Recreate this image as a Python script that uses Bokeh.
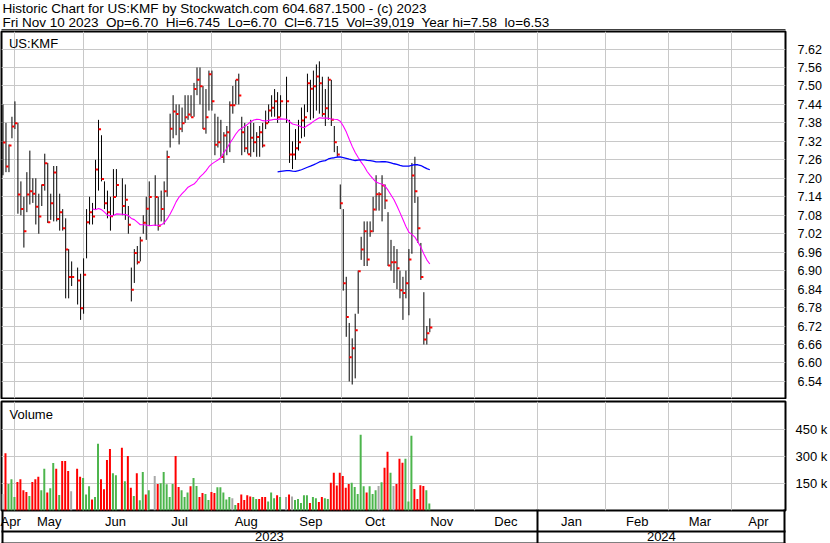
import numpy as np
import pandas as pd
from bokeh.plotting import figure
from bokeh.models import Range1d, FixedTicker, LinearAxis, Label, NumeralTickFormatter, BoxAnnotation
from bokeh.layouts import column
from bokeh.embed import file_html
from bokeh.resources import INLINE

FONT = "Liberation Sans"

# ---------------- data ----------------
start_day = "2023-04-25"
holidays = ["2023-05-29", "2023-06-19", "2023-07-04", "2023-09-04"]
dates = pd.bdate_range(start_day, "2023-11-10", freq="C", holidays=holidays)

high = [7.44, 7.38, 7.31, 7.40, 7.45, 7.38, 7.19, 7.14, 7.22, 7.29,
        7.20, 7.20, 7.15, 7.18, 7.28, 7.25, 7.15, 7.24, 7.24, 7.15,
        7.10, 7.07, 6.97, 6.93,
        6.91, 6.89, 6.94, 7.10, 7.14, 7.12, 7.26, 7.39, 7.34, 7.19, 7.16, 7.14, 7.23, 7.23,
        7.20, 7.18, 7.11, 6.91, 6.97, 6.98, 7.01, 7.08, 7.14, 7.19,
        7.21, 7.14, 7.16, 7.19, 7.29, 7.41, 7.47, 7.44, 7.44, 7.43, 7.47, 7.47, 7.47, 7.51,
        7.56, 7.56, 7.50, 7.49, 7.55, 7.55, 7.41, 7.40, 7.39, 7.35, 7.37, 7.45, 7.50, 7.52,
        7.54, 7.40, 7.38, 7.37, 7.39, 7.38, 7.35, 7.37, 7.38, 7.42, 7.44, 7.47, 7.49, 7.48, 7.47,
        7.53, 7.39, 7.32, 7.36, 7.39, 7.43, 7.44, 7.54, 7.52, 7.55, 7.57, 7.58, 7.53, 7.49,
        7.53, 7.52, 7.37, 7.305, 7.18, 7.10, 6.88, 6.73, 6.68, 6.76, 6.90, 7.01, 7.06, 7.06,
        7.06, 7.14, 7.21, 7.155, 7.21, 7.18, 7.09, 7.00, 6.98, 6.97, 6.90, 6.88, 6.90, 6.97,
        7.25, 7.27, 7.14, 6.99, 6.83, 6.72, 6.745]

low = [7.21, 7.22, 7.22, 7.33, 7.36, 7.085, 7.08, 6.975, 7.09, 7.115,
       7.12, 7.05, 7.02, 7.11, 7.16, 7.055, 7.065, 7.06, 7.06, 7.03,
       7.03, 6.81, 6.81, 6.85,
       6.79, 6.74, 6.76, 6.94, 7.05, 7.05, 7.10, 7.16, 7.19, 7.10, 7.07, 7.03, 7.08, 7.14,
       7.08, 7.065, 7.02, 6.80, 6.86, 6.92, 6.93, 7.02, 7.00, 7.045,
       7.045, 7.03, 7.06, 7.05, 7.14, 7.30, 7.33, 7.34, 7.31, 7.35, 7.38, 7.39, 7.40, 7.40,
       7.47, 7.44, 7.36, 7.345, 7.42, 7.42, 7.275, 7.30, 7.27, 7.25, 7.275, 7.285, 7.41, 7.44,
       7.44, 7.275, 7.285, 7.28, 7.27, 7.285, 7.27, 7.27, 7.30, 7.36, 7.38, 7.40, 7.40, 7.38, 7.40,
       7.38, 7.25, 7.23, 7.26, 7.29, 7.33, 7.335, 7.415, 7.39, 7.395, 7.42, 7.41, 7.40, 7.37,
       7.39, 7.37, 7.285, 7.27, 7.10, 6.835, 6.685, 6.54, 6.53, 6.55, 6.76, 6.935, 6.915, 6.915,
       7.01, 7.025, 7.095, 7.095, 7.06, 7.10, 6.915, 6.90, 6.86, 6.84, 6.81, 6.74, 6.81, 6.755,
       6.955, 7.12, 6.99, 6.87, 6.66, 6.66, 6.70]

close = [7.316, 7.238, 7.307, 7.368, 7.379, 7.147, 7.100, 7.028, 7.147, 7.158,
         7.150, 7.108, 7.076, 7.178, 7.249, 7.057, 7.119, 7.219, 7.068, 7.090,
         7.038, 6.969, 6.879, 6.879,
         6.868, 6.778, 6.887, 7.057, 7.090, 7.076, 7.229, 7.359, 7.198, 7.119, 7.090, 7.077, 7.139, 7.178,
         7.110, 7.130, 7.049, 6.838, 6.957, 6.927, 6.998, 7.056, 7.101, 7.139,
         7.139, 7.046, 7.100, 7.158, 7.269, 7.361, 7.417, 7.409, 7.361, 7.379, 7.398, 7.407, 7.398, 7.490,
         7.520, 7.499, 7.361, 7.398, 7.538, 7.450, 7.309, 7.317, 7.269, 7.339, 7.350, 7.437, 7.437, 7.520,
         7.469, 7.350, 7.298, 7.278, 7.332, 7.317, 7.334, 7.350, 7.307, 7.379, 7.420, 7.429, 7.450, 7.398, 7.450,
         7.450, 7.277, 7.277, 7.298, 7.317, 7.388, 7.398, 7.509, 7.491, 7.499, 7.531, 7.509, 7.409, 7.428,
         7.520, 7.390, 7.317, 7.277, 7.119, 6.859, 6.749, 6.619, 6.648, 6.706, 6.898, 6.969, 7.028, 6.936,
         7.028, 7.099, 7.148, 7.148, 7.177, 7.128, 6.917, 6.927, 6.927, 6.908, 6.836, 6.827, 6.859, 6.936,
         7.209, 7.158, 7.038, 6.879, 6.676, 6.697, 6.715]

volume_k = [91, 316, 147, 173, 74, 158, 173, 112, 102, 80,
            158, 173, 186, 112, 231, 100, 123, 262, 231, 86,
            273, 273, 218, 106,
            231, 186, 179, 89, 134, 61, 74, 368, 173, 117, 279, 340, 206, 195,
            346, 162, 301, 125, 80, 206, 56, 212, 89, 112,
            190, 147, 151, 212, 145, 74, 147, 301, 130, 112, 74, 100, 134, 179,
            136, 74, 97, 91, 58, 102, 97, 128, 128, 100, 61, 74, 67, 30,
            41, 89, 58, 84, 78, 74, 63, 63, 74, 74, 50, 100, 67, 84, 74,
            74, 89, 78, 58, 63, 41, 84, 84, 41, 74, 67, 47, 74, 67,
            63, 153, 208, 138, 208, 190, 125, 147, 153, 130, 91, 419, 134, 100,
            134, 91, 112, 136, 156, 236, 324, 208, 136, 147, 286, 264, 286, 50,
            413, 119, 63, 140, 136, 112, 39]

direction = ("n d u u u d d d d u d d d u u d u u d u d d d n "
             "d d u u u d u u d d d d u u "
             "d u d d u d u u d u "
             "n d u u u u u d d u u u d u u d d u u d d u u u u u n u d d d d d u u d d d u u u d u "
             "n d n u u u u u d u u d d u u d d d d d d d u u u u u d u u u n u d d u n d d d u u u d d d d u u").split()

months = ["Apr", "May", "Jun", "Jul", "Aug", "Sep", "Oct", "Nov", "Dec",
          "Jan", "Feb", "Mar", "Apr"]
years = ["2023", "2024"]
price_ticks = [6.54, 6.60, 6.66, 6.72, 6.78, 6.84, 6.90, 6.96, 7.02, 7.08,
               7.14, 7.20, 7.26, 7.32, 7.38, 7.44, 7.50, 7.56, 7.62]
vol_ticks = [150000, 300000, 450000]
vol_labels = ["150 k", "300 k", "450 k"]

S2 = "\u00a0 "
header1 = "Historic Chart for US:KMF by Stockwatch.com 604.687.1500 - (c) 2023"
header2 = S2.join(["Fri Nov 10 2023", "Op=6.70", "Hi=6.745", "Lo=6.70", "Cl=6.715",
                   "Vol=39,019", "Year hi=7.58", "lo=6.53"])

# ---------------- derived positions ----------------
d0 = np.datetime64(start_day)
x = np.busday_count(d0, dates.values.astype("datetime64[D]")).astype(float)
high = np.array(high); low = np.array(low); close = np.array(close)
volume = np.array(volume_k) * 1000.0
colmap = {"u": "#4cb54c", "d": "#ff0000", "n": "#a8a8a8"}
vcolors = [colmap[c] for c in direction]

# 3 screen pixels per weekday across a 788 px wide frame
xmin = -0.5
xmax = xmin + 788 / 3.0

month_starts = pd.date_range("2023-05-01", "2024-04-01", freq="MS")
def gpos(d):
    n = np.busday_count(d0, np.datetime64(d.date()))
    return float(n) - (0.667 if d.weekday() >= 5 else 0.0)
grid_x = [gpos(d) for d in month_starts]
bounds = [xmin - 0.6] + grid_x + [xmax]
month_centers = [round((bounds[k] + bounds[k + 1]) / 2, 2) for k in range(len(months))]
jan = grid_x[8]
year_centers = [round((xmin + jan) / 2, 2), round((jan + xmax) / 2, 2)]

cs = pd.Series(close)
ma30 = cs.rolling(30).mean().values
ma90 = cs.rolling(90).mean().values
m30 = ~np.isnan(ma30)
m90 = ~np.isnan(ma90)

W = 830
GRID = "#c8c8c8"
xr = Range1d(xmin, xmax)

# ---------------- header (frame spans px 1..789, data x == screen px) ----------------
h = figure(width=W, height=30, x_range=Range1d(1, 789), y_range=Range1d(0, 30),
           output_backend="svg", toolbar_location=None,
           x_axis_location=None, y_axis_location=None,
           min_border_left=1, min_border_right=41, min_border_top=0, min_border_bottom=0)
h.grid.visible = False
h.outline_line_color = None
h.add_layout(Label(x=2, y=22, text=header1, text_font=FONT, text_font_size="13.5px",
                   text_color="black", text_baseline="middle"))
h.add_layout(Label(x=2, y=8.5, text=header2, text_font=FONT, text_font_size="13.5px",
                   text_color="black", text_baseline="middle"))
h.add_layout(BoxAnnotation(left=827.5, right=829.6, bottom=0, top=30,
                           fill_color="black", fill_alpha=1, line_color=None))
h.add_layout(BoxAnnotation(left=0, right=830, bottom=0, top=1.2,
                           fill_color="black", fill_alpha=1, line_color=None))

# ---------------- price panel ----------------
p = figure(width=W, height=369, x_range=xr, y_range=Range1d(6.4846, 7.677),
           output_backend="svg", toolbar_location=None,
           x_axis_location=None, y_axis_location="right",
           min_border_left=1, min_border_right=41, min_border_top=1, min_border_bottom=1)
p.outline_line_color = "black"
p.outline_line_width = 2
p.outline_line_alpha = 1
p.yaxis.ticker = FixedTicker(ticks=price_ticks)
p.yaxis.formatter = NumeralTickFormatter(format="0.00")
p.yaxis.major_tick_line_color = None
p.yaxis.minor_tick_line_color = None
p.yaxis.axis_line_color = None
p.yaxis.major_label_text_font = FONT
p.yaxis.major_label_text_font_size = "12.5px"
p.yaxis.major_label_text_color = "black"
p.yaxis.major_label_standoff = 6
p.ygrid.ticker = FixedTicker(ticks=price_ticks)
p.xgrid.ticker = FixedTicker(ticks=grid_x)
p.grid.grid_line_color = GRID
p.grid.grid_line_width = 1

p.segment(x0=x, y0=low, x1=x, y1=high, line_color="black", line_width=1)
p.segment(x0=x + 0.02, y0=close, x1=x + 0.85, y1=close, line_color="red", line_width=2)
p.line(x[m30], ma30[m30], line_color="#ff00ff", line_width=1.1)
p.line(x[m90], ma90[m90], line_color="#0000ff", line_width=1.3)
p.add_layout(Label(x=2.0, y=7.662, text="US:KMF", text_font=FONT, text_font_size="13px",
                   text_color="black", text_baseline="top"))

# ---------------- volume panel ----------------
v = figure(width=W, height=144, x_range=xr, y_range=Range1d(0, 602000),
           output_backend="svg", toolbar_location=None,
           x_axis_location=None, y_axis_location="right",
           min_border_left=1, min_border_right=41, min_border_top=2, min_border_bottom=2)
v.outline_line_color = "black"
v.outline_line_width = 2
v.outline_line_alpha = 1
v.yaxis.ticker = FixedTicker(ticks=vol_ticks)
v.yaxis.major_label_overrides = {t: s for t, s in zip(vol_ticks, vol_labels)}
v.yaxis.major_tick_line_color = None
v.yaxis.minor_tick_line_color = None
v.yaxis.axis_line_color = None
v.yaxis.major_label_text_font = FONT
v.yaxis.major_label_text_font_size = "13px"
v.yaxis.major_label_text_color = "black"
v.yaxis.major_label_standoff = 4
v.ygrid.ticker = FixedTicker(ticks=vol_ticks)
v.xgrid.ticker = FixedTicker(ticks=grid_x)
v.grid.grid_line_color = GRID
v.grid.grid_line_width = 1

v.vbar(x=x - 0.1667, top=volume, bottom=0, width=2 / 3.0, fill_color=vcolors, line_color=None)
v.add_layout(Label(x=2.2, y=574000, text="Volume", text_font=FONT, text_font_size="13px",
                   text_color="black", text_baseline="top"))

ax_m = LinearAxis(ticker=FixedTicker(ticks=month_centers),
                  major_label_overrides={t: s for t, s in zip(month_centers, months)},
                  major_tick_out=0, major_tick_in=0, major_tick_line_color=None,
                  minor_tick_line_color=None, axis_line_color=None,
                  major_label_standoff=3, major_label_text_font=FONT,
                  major_label_text_font_size="13px", major_label_text_color="black")
v.add_layout(ax_m, "below")
ax_y = LinearAxis(ticker=FixedTicker(ticks=year_centers),
                  major_label_overrides={t: s for t, s in zip(year_centers, years)},
                  major_tick_out=0, major_tick_in=0, major_tick_line_color=None,
                  minor_tick_line_color=None,
                  axis_line_color="black", axis_line_width=2,
                  major_label_standoff=0, major_label_text_font=FONT,
                  major_label_text_font_size="13px", major_label_text_color="black")
v.add_layout(ax_y, "below")
ax_b = LinearAxis(ticker=FixedTicker(ticks=[], minor_ticks=[xmin + 0.3, jan, xmax - 0.25]),
                  major_tick_out=0, major_tick_in=0, major_tick_line_color=None,
                  minor_tick_out=0, minor_tick_in=34, minor_tick_line_color="black",
                  minor_tick_line_width=2,
                  major_label_text_font_size="0px", axis_line_color="black", axis_line_width=2)
v.add_layout(ax_b, "below")

layout = column(h, p, v, spacing=0)
open("out.html", "w").write(file_html(layout, INLINE, title="US:KMF"))
